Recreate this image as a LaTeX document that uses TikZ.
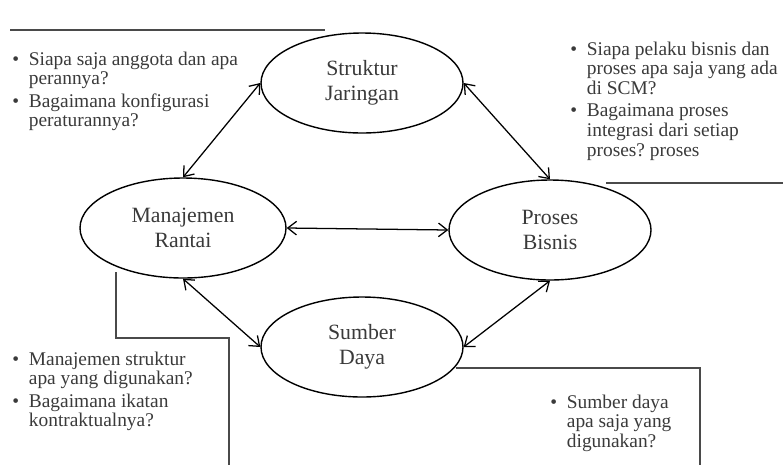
\documentclass[tikz,border=0pt]{standalone}
\usepackage{fontspec}
\setmainfont{Liberation Serif}
\usepackage{xcolor}
\usepackage{tikz}
\usetikzlibrary{positioning,arrows.meta,shapes.geometric}
\frenchspacing

\definecolor{txtgray}{HTML}{3A3A3A}
\definecolor{rulegray}{HTML}{4A4A4A}
\newcommand{\qlist}[1]{\begin{tabular}[t]{@{}l@{\hspace{7pt}}l@{}}#1\end{tabular}}

\begin{document}
\begin{tikzpicture}[
  ell/.style={draw,ellipse,line width=1pt,minimum width=5.05cm,minimum height=2.5cm,align=center,
    text=txtgray,font=\fontsize{15.5}{17.7}\selectfont,inner sep=0pt},
  arr/.style={{Straight Barb[length=2.2mm,width=3.4mm]}-{Straight Barb[length=2.2mm,width=3.4mm]},line width=0.9pt},
  lst/.style={anchor=base west,inner sep=0pt,text=txtgray,font=\fontsize{13.8}{14}\selectfont},
  rule/.style={draw=rulegray,line width=1.2pt}]
\useasboundingbox (0,0) rectangle (19.575,-11.625);
% the four ellipses
\node[ell] (sj) at (9.05,-2.075) {Struktur\\Jaringan};
\node[ell,minimum width=5.15cm] (mr) at (4.575,-5.7) {Manajemen\\Rantai};
\node[ell] (pb) at (13.75,-5.75) {Proses\\Bisnis};
\node[ell] (sd) at (9.05,-8.675) {Sumber\\Daya};
\draw[arr] (sj.west) -- (mr.north);
\draw[arr] (sj.east) -- (pb.north);
\draw[arr] (mr.east) -- (pb.west);
\draw[arr] (mr.south) -- (sd.west);
\draw[arr] (sd.east) -- (pb.south);
% question lists
\node[lst] (q1) at (0.3,-1.625) {\qlist{\textbullet & Siapa saja anggota dan apa\\
  & perannya?\\[2pt] \textbullet & Bagaimana konfigurasi\\ & peraturannya?}};
\node[lst] (q2) at (14.25,-1.375) {\qlist{\textbullet & Siapa pelaku bisnis dan\\
  & proses apa saja yang ada\\ & di SCM?\\[2pt] \textbullet & Bagaimana proses\\
  & integrasi dari setiap\\ & proses? proses}};
\node[lst] (q3) at (0.3,-9.125) {\qlist{\textbullet & Manajemen struktur\\
  & apa yang digunakan?\\[2pt] \textbullet & Bagaimana ikatan\\ & kontraktualnya?}};
\node[lst] (q4) at (13.75,-10.2) {\qlist{\textbullet & Sumber daya\\
  & apa saja yang\\ & digunakan?}};
% frame lines
\coordinate (tl1) at (0.25,-0.75);
\coordinate (tl2) at (8.125,-0.75);
\coordinate (tr1) at (15.15,-4.575);
\coordinate (tr2) at (19.575,-4.575);
\coordinate (bl1) at (2.9,-6.8);
\coordinate (bl2) at (5.725,-8.45);
\coordinate (bl3) at (5.725,-11.625);
\coordinate (br1) at (11.4,-9.2);
\coordinate (br2) at (17.5,-11.625);
\draw[rule] (tl1) -- (tl2);
\draw[rule] (tr1) -- (tr2);
\draw[rule] (bl1) |- (bl2) -- (bl3);
\draw[rule] (br1) -| (br2);
\end{tikzpicture}
\end{document}
